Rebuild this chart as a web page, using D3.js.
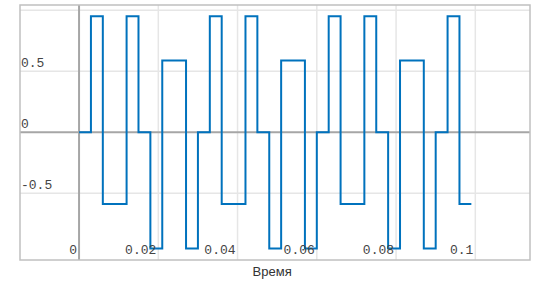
<!DOCTYPE html>
<html>
<head>
<meta charset="utf-8">
<script src="https://cdn.jsdelivr.net/npm/d3@7"></script>
<style>
  body { margin: 0; background: #fff; }
  svg { display: block; }
</style>
</head>
<body>
<script>
// sample times (s) and held values of the sampled signal
const times = [0, 0.003, 0.006, 0.009, 0.012, 0.015, 0.018, 0.021, 0.024, 0.027,
               0.030, 0.033, 0.036, 0.039, 0.042, 0.045, 0.048, 0.051, 0.054, 0.057,
               0.060, 0.063, 0.066, 0.069, 0.072, 0.075, 0.078, 0.081, 0.084, 0.087,
               0.090, 0.093, 0.096, 0.099];
const values = [0, 0.951, -0.588, -0.588, 0.951, 0, -0.951, 0.588, 0.588, -0.951,
                0, 0.951, -0.588, -0.588, 0.951, 0, -0.951, 0.588, 0.588, -0.951,
                0, 0.951, -0.588, -0.588, 0.951, 0, -0.951, 0.588, 0.588, -0.951,
                0, 0.951, -0.588, -0.588];
const xTicks = [0, 0.02, 0.04, 0.06, 0.08, 0.1];
const xTickLabels = ['0', '0.02', '0.04', '0.06', '0.08', '0.1'];
const yTicks = [-0.5, 0, 0.5];
const yTickLabels = ['-0.5', '0', '0.5'];
const yGrid = [-0.5, 0, 0.5, 1];
const xLabel = 'Время';

const W = 539, H = 285;
const box = {left: 20, right: 530, top: 5, bottom: 260};

const x = d3.scaleLinear().domain([-0.0149, 0.1138]).range([box.left, box.right]);
const y = d3.scaleLinear().domain([-1.046, 1.043]).range([box.bottom, box.top]);

const svg = d3.select('body').append('svg')
  .attr('width', W)
  .attr('height', H);

// grid
svg.append('g')
  .selectAll('line')
  .data(xTicks.filter(d => d !== 0))
  .join('line')
  .attr('x1', d => x(d)).attr('x2', d => x(d))
  .attr('y1', box.top).attr('y2', box.bottom)
  .attr('stroke', '#e6e6e6').attr('stroke-width', 1.5);

svg.append('g')
  .selectAll('line')
  .data(yGrid.filter(d => d !== 0))
  .join('line')
  .attr('x1', box.left).attr('x2', box.right)
  .attr('y1', d => y(d)).attr('y2', d => y(d))
  .attr('stroke', '#e6e6e6').attr('stroke-width', 1.5);

// zero axes
svg.append('line')
  .attr('x1', box.left).attr('x2', box.right)
  .attr('y1', y(0)).attr('y2', y(0))
  .attr('stroke', '#a6a6a6').attr('stroke-width', 2);
svg.append('line')
  .attr('x1', x(0)).attr('x2', x(0))
  .attr('y1', box.top).attr('y2', box.bottom)
  .attr('stroke', '#a6a6a6').attr('stroke-width', 2);

// frame
svg.append('rect')
  .attr('x', box.left).attr('y', box.top)
  .attr('width', box.right - box.left).attr('height', box.bottom - box.top)
  .attr('fill', 'none').attr('stroke', '#c0c0c0').attr('stroke-width', 1.5);

// signal
const pts = times.map((t, i) => [t, values[i] !== undefined ? values[i] : values[values.length - 1]]);
const line = d3.line()
  .x(d => x(d[0]))
  .y(d => y(d[1]))
  .curve(d3.curveStepAfter);

svg.append('path')
  .datum(pts)
  .attr('d', line)
  .attr('fill', 'none')
  .attr('stroke', '#0072bd')
  .attr('stroke-width', 2);

// tick labels
const mono = '"Liberation Mono", "DejaVu Sans Mono", monospace';
svg.append('g')
  .selectAll('text')
  .data(xTicks)
  .join('text')
  .attr('x', d => x(d) - 2)
  .attr('y', box.bottom - 6)
  .attr('text-anchor', 'end')
  .attr('font-family', mono)
  .attr('font-size', 13)
  .attr('fill', '#444')
  .text((d, i) => xTickLabels[i]);

svg.append('g')
  .selectAll('text')
  .data(yTicks)
  .join('text')
  .attr('x', box.left + 1)
  .attr('y', d => y(d) - 4)
  .attr('font-family', mono)
  .attr('font-size', 13)
  .attr('fill', '#444')
  .text((d, i) => yTickLabels[i]);

// axis label
svg.append('text')
  .attr('x', (x(0) + x(0.1)) / 2 - 5)
  .attr('y', 276)
  .attr('text-anchor', 'middle')
  .attr('font-family', '"Liberation Sans", Arial, sans-serif')
  .attr('font-size', 13)
  .attr('fill', '#333')
  .text(xLabel);
</script>
</body>
</html>
